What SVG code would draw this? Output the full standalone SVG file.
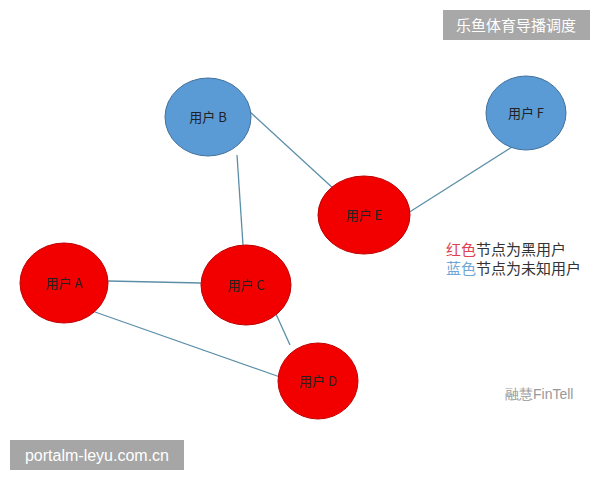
<svg xmlns="http://www.w3.org/2000/svg" width="600" height="480" viewBox="0 0 600 480">
<style>
.red{fill:#f20000;stroke:#c00000;stroke-width:1}
.blue{fill:#5b9bd5;stroke:#41719c;stroke-width:1}
.lbl{font-family:"Noto Sans CJK SC","Liberation Sans",sans-serif;font-size:13px;fill:#222;text-anchor:middle}
.edge{stroke:#5b8fa8;stroke-width:1.3}
.cn{font-family:"Noto Sans CJK SC",sans-serif;font-size:15px}
</style>
<rect width="600" height="480" fill="#fff"/>
<g id="connectors">
<line class="edge" x1="237" y1="155" x2="243" y2="245"/>
<line class="edge" x1="250" y1="112" x2="335" y2="190"/>
<line class="edge" x1="408" y1="213" x2="515" y2="145"/>
<line class="edge" x1="108" y1="281" x2="201" y2="283"/>
<line class="edge" x1="95" y1="312" x2="280" y2="377"/>
<line class="edge" x1="276" y1="314" x2="290" y2="345"/>
</g>
<g id="nodeB"><ellipse class="blue" cx="208" cy="117" rx="43" ry="39"/><text class="lbl" x="208" y="122">用户 B</text></g>
<g id="nodeF"><ellipse class="blue" cx="526" cy="113" rx="40" ry="37"/><text class="lbl" x="526" y="118">用户 F</text></g>
<g id="nodeE"><ellipse class="red" cx="364" cy="215" rx="46" ry="39"/><text class="lbl" x="364" y="220">用户 E</text></g>
<g id="nodeA"><ellipse class="red" cx="64" cy="283" rx="44" ry="40"/><text class="lbl" x="64" y="288">用户 A</text></g>
<g id="nodeC"><ellipse class="red" cx="246" cy="285" rx="45" ry="40"/><text class="lbl" x="246" y="290">用户 C</text></g>
<g id="nodeD"><ellipse class="red" cx="318" cy="381" rx="40" ry="38"/><text class="lbl" x="318" y="386">用户 D</text></g>
<g id="legend" class="cn" font-size="14">
<text x="446" y="255"><tspan fill="#e04050">红色</tspan><tspan fill="#333">节点为黑用户</tspan></text>
<text x="446" y="274"><tspan fill="#6fa8d8">蓝色</tspan><tspan fill="#333">节点为未知用户</tspan></text>
</g>
<text x="505" y="399" font-family="Liberation Sans,sans-serif" font-size="14" fill="#999">融慧FinTell</text>
<rect x="443" y="10" width="147" height="30" fill="#9e9e9e" opacity="0.9"/>
<text x="516" y="31" class="cn" fill="#fff" text-anchor="middle">乐鱼体育导播调度</text>
<rect x="10" y="440" width="174" height="30" fill="#a6a6a6"/>
<text x="97" y="461" font-family="Liberation Sans,sans-serif" font-size="16" fill="#fff" text-anchor="middle">portalm-leyu.com.cn</text>
</svg>
